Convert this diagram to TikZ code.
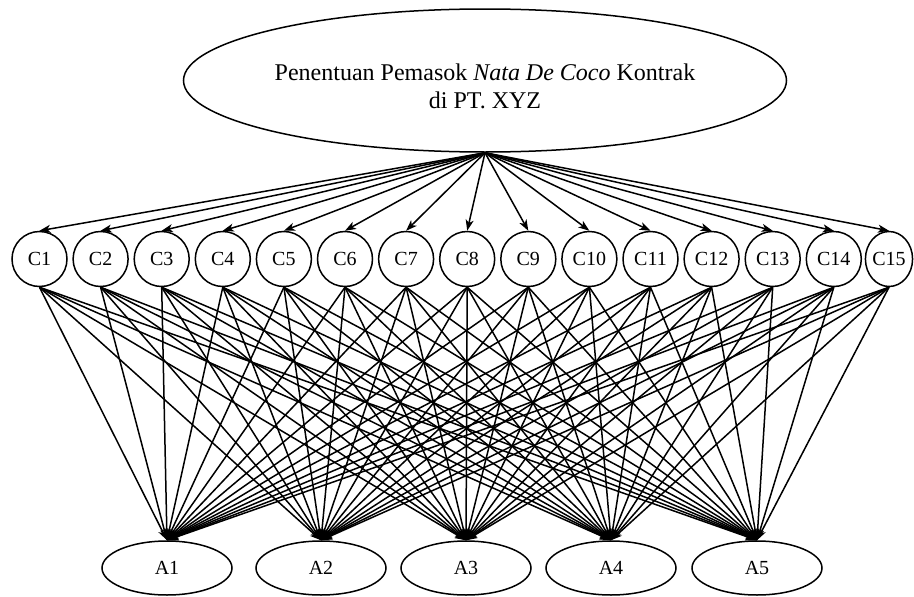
\documentclass[tikz,border=0pt]{standalone}
\usepackage{fontspec}
\setmainfont{Liberation Serif}
\usetikzlibrary{arrows.meta,shapes.geometric}
\begin{document}
\begin{tikzpicture}[x=1pt,y=-1pt,
  conn/.style={line width=1.5pt,-{Stealth[length=11pt,width=8pt,inset=3pt]}},
  goal/.style={ellipse,draw,line width=1.5pt,minimum width=603pt,minimum height=143pt,inner sep=0pt},
  crit/.style={circle,draw,line width=1.5pt,minimum size=55pt,inner sep=0pt,font=\fontsize{20}{24}\selectfont},
  critnarrow/.style={ellipse,draw,line width=1.5pt,minimum width=46pt,minimum height=55pt,inner sep=0pt,font=\fontsize{20}{24}\selectfont},
  alt/.style={ellipse,draw,line width=1.5pt,minimum width=130pt,minimum height=54pt,inner sep=0pt,font=\fontsize{20}{24}\selectfont},
  title/.style={align=center,inner sep=0pt,font=\fontsize{24}{28}\selectfont}]
\useasboundingbox (0,0) rectangle (914,597);

% goal
\node[goal] (goal) at (485,80.5) {};
\node[title] (goaltext) at (485,86) {Penentuan Pemasok \textit{Nata De Coco} Kontrak\\di PT. XYZ};

% criteria
\foreach \i in {1,...,14}{
  \node[crit] (c\i) at ({39.5+61.1*(\i-1)},259) {C\i};
}
\node[critnarrow] (c15) at (889,259) {C15};

% alternatives
\foreach \j/\x in {1/167,2/321,3/466,4/611,5/757}{
  \node[alt] (a\j) at (\x,568) {A\j};
}

% goal to criteria
\foreach \i in {1,...,15}{
  \draw[conn] (goal.south) -- (c\i.north);
}

% criteria to alternatives
\foreach \i in {1,...,15}{
  \foreach \j in {1,...,5}{
    \draw[conn] (c\i.south) -- (a\j.north);
  }
}
\end{tikzpicture}
\end{document}
